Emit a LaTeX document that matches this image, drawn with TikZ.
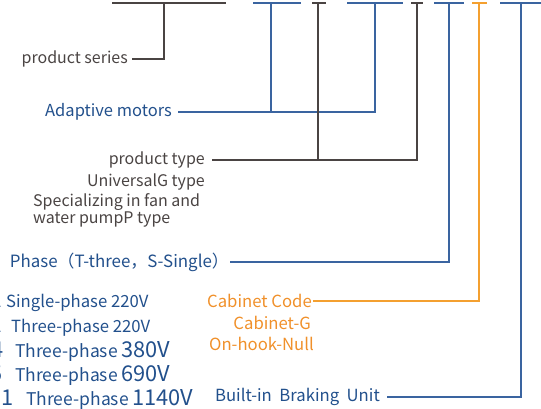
\documentclass[tikz,border=0pt]{standalone}
\usepackage{fontspec}
\setmainfont{Noto Sans CJK SC}
\definecolor{dk}{HTML}{4A4443}
\definecolor{bl}{HTML}{3A64A0}
\definecolor{bt}{HTML}{22508C}
\definecolor{og}{HTML}{F4A030}
\definecolor{ot}{HTML}{F0902A}
\newcommand{\bigfs}{\fontsize{21.8}{23}\selectfont}
\newcommand{\midfs}{\fontsize{17.5}{19}\selectfont}
\begin{document}
\begin{tikzpicture}[x=1pt,y=-1pt,
  ln/.style={line width=1.8pt},
  lbl/.style={inner sep=0pt,font=\fontsize{16}{17}\selectfont},
  lblb/.style={inner sep=0pt,font=\fontsize{16.7}{18}\selectfont}]
\useasboundingbox (0,0) rectangle (541,409);
\clip (0,0) rectangle (541,409);
% top bars
\draw[ln,dk] (112,3) -- (226,3);
\draw[ln,bl] (253,3) -- (301,3);
\draw[ln,dk] (312,3) -- (326,3);
\draw[ln,bl] (347,3) -- (403,3);
\draw[ln,dk] (411,3) -- (423,3);
\draw[ln,bl] (434,3) -- (464,3);
\draw[ln,og] (472,3) -- (487,3);
\draw[ln,bl] (500,3) -- (545,3);
% labels
\node[lbl,text=dk,anchor=east] (ps) at (128,59) {product series};
\node[lblb,text=bt,anchor=east,font=\fontsize{16.5}{18}\selectfont] (am) at (172,112) {Adaptive motors};
\node[lbl,text=dk,anchor=east] (pt) at (205,160) {product type};
\node[lbl,text=dk,anchor=east] (ug) at (205,182) {UniversalG type};
\node[lbl,text=dk,anchor=west,align=left] (sp) at (33,210) {Specializing in fan and\\water pumpP type};
\node[lblb,text=bt,anchor=east,font=\fontsize{16.9}{18}\selectfont] (ph) at (229,262) {Phase（T-three，S-Single）};
\node[lblb,text=ot,anchor=east] (cc) at (312,301) {Cabinet Code};
\node[lblb,text=ot,anchor=east] (cg) at (311,323) {Cabinet-G};
\node[lblb,text=ot,anchor=east] (oh) at (314,344) {On-hook-Null};
\node[lblb,text=bt,anchor=east] (bu) at (380,397) {Built-in\ \ Braking\ \ Unit};
% left column
\node[lblb,text=bt,anchor=base west] (r1) at (6,307) {Single-phase 220V};
\node[lblb,text=bt,anchor=base east] (d1) at (1.5,307) {2};
\node[lblb,text=bt,anchor=base west] (r2) at (11,332) {Three-phase 220V};
\node[lblb,text=bt,anchor=base east] (d2) at (1.5,332) {2};
\node[lblb,text=bt,anchor=base west] (r3) at (15,357) {{\midfs Three-phase} {\bigfs 380V}};
\node[lblb,text=bt,anchor=base east] (d3) at (3.5,357) {\bigfs 4};
\node[lblb,text=bt,anchor=base west] (r4) at (15,381) {{\midfs Three-phase} {\bigfs 690V}};
\node[lblb,text=bt,anchor=base east] (d4) at (3,381) {\bigfs 5};
\node[lblb,text=bt,anchor=base west] (r5) at (26,405) {{\midfs Three-phase} {\bigfs 1140V}};
\node[lblb,text=bt,anchor=base east] (d5) at (14,405) {\bigfs 11};
% connectors
\coordinate (t1) at (164,3);
\coordinate (t2) at (271,3);
\coordinate (t3) at (318,3);
\coordinate (t4) at (375,3);
\coordinate (t5) at (417,3);
\coordinate (t6) at (449,3);
\coordinate (t7) at (479,3);
\coordinate (t8) at (521,3);
\draw[ln,dk] ([xshift=4pt]ps.east) -| (t1);
\draw[ln,bl] ([xshift=6pt]am.east) -| (t4);
\draw[ln,bl] (t2) -- (t2 |- am.east);
\draw[ln,dk] ([xshift=7pt]pt.east) -| (t5);
\draw[ln,dk] (t3) -- (t3 |- pt.east);
\draw[ln,bl] ([xshift=1pt]ph.east) -| (t6);
\draw[ln,og] ([xshift=1pt]cc.east) -| (t7);
\draw[ln,bl] ([xshift=7pt]bu.east) -| (t8);
\end{tikzpicture}
\end{document}
